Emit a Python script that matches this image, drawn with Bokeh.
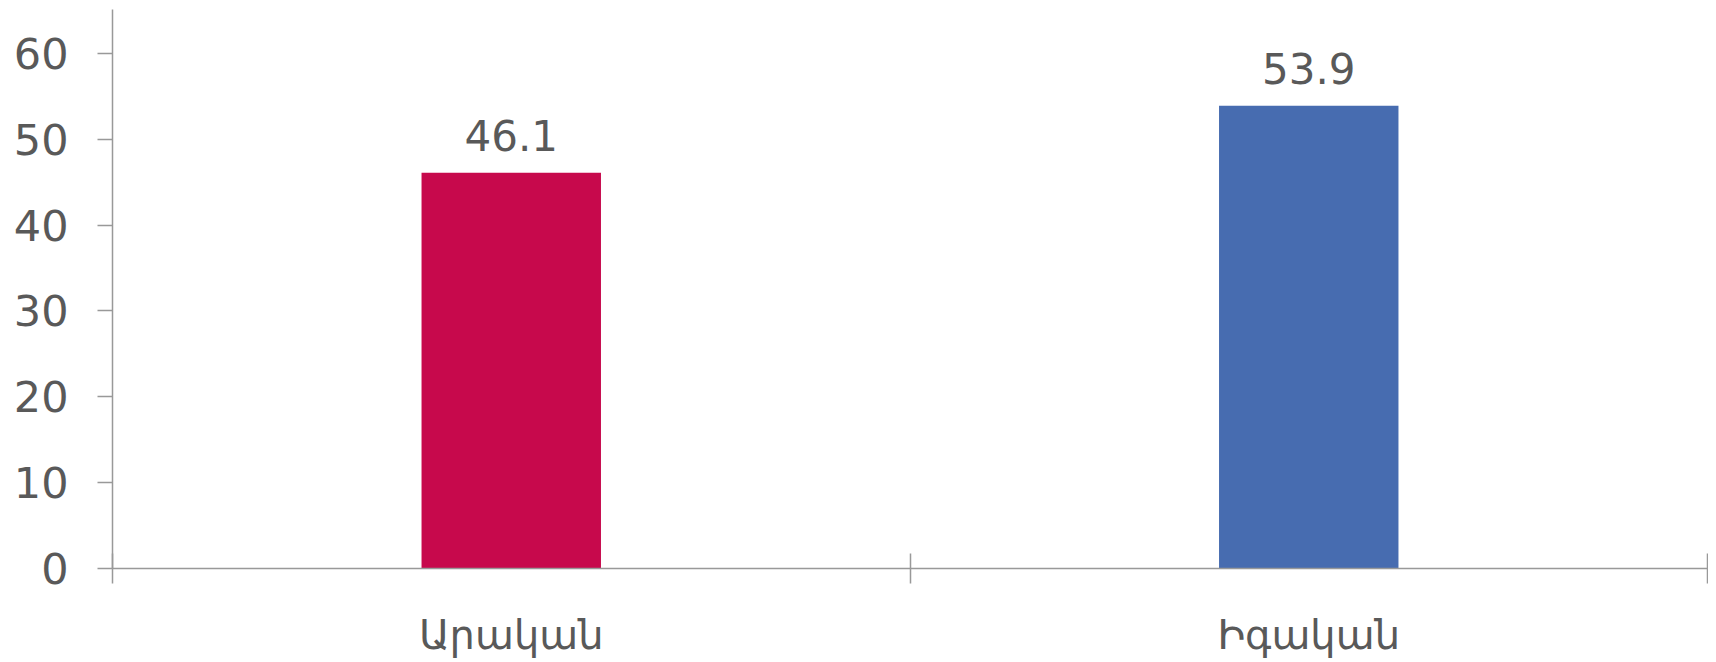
from bokeh.plotting import figure
from bokeh.models import FixedTicker, Range1d, ColumnDataSource, LabelSet
from bokeh.core.properties import value
from bokeh.embed import file_html
from bokeh.resources import INLINE

categories = ["Արական", "Իգական"]
values = [46.1, 53.9]
bar_colors = ["#C7094C", "#476CB0"]
y_ticks = [0, 10, 20, 30, 40, 50, 60]

FONT = "DejaVu Sans"
TXT = "#595959"
AXC = "#999999"

xs = [i + 0.5 for i in range(len(categories))]
src = ColumnDataSource(dict(x=xs, top=values, color=bar_colors,
                            label=[f"{v:.1f}" for v in values]))

p = figure(width=1708, height=660, output_backend="svg", toolbar_location=None,
           x_range=Range1d(0, len(categories)), y_range=Range1d(0, 65.1),
           min_border_left=112, min_border_right=1, min_border_top=9,
           min_border_bottom=86)
p.outline_line_color = None
p.xgrid.visible = False
p.ygrid.visible = False

p.vbar(x="x", top="top", bottom=0, width=0.225, color="color", line_color=None, source=src)

labels = LabelSet(x="x", y="top", text="label", source=src, text_align="center",
                  text_baseline="bottom", y_offset=22, text_font=value(FONT),
                  text_font_size=value("42px"), text_color=value(TXT))
p.add_layout(labels)

# y axis
p.yaxis.ticker = FixedTicker(ticks=y_ticks)
p.yaxis.axis_line_color = AXC
p.yaxis.axis_line_width = 1.5
p.yaxis.major_tick_line_color = AXC
p.yaxis.major_tick_line_width = 1.5
p.yaxis.major_tick_in = 0
p.yaxis.major_tick_out = 15
p.yaxis.minor_tick_line_color = None
p.yaxis.major_label_standoff = 29
p.yaxis.major_label_text_font = FONT
p.yaxis.major_label_text_font_size = "43px"
p.yaxis.major_label_text_color = TXT

# x axis
p.xaxis.ticker = FixedTicker(ticks=xs, minor_ticks=list(range(len(categories) + 1)))
p.xaxis.major_label_overrides = {x: c for x, c in zip(xs, categories)}
p.xaxis.axis_line_color = AXC
p.xaxis.axis_line_width = 1.5
p.xaxis.major_tick_line_color = None
p.xaxis.minor_tick_line_color = AXC
p.xaxis.minor_tick_line_width = 1.5
p.xaxis.minor_tick_in = 15
p.xaxis.minor_tick_out = 15
p.xaxis.major_label_standoff = 28
p.xaxis.major_label_text_font = FONT
p.xaxis.major_label_text_font_size = "40px"
p.xaxis.major_label_text_color = TXT

open("out.html", "w").write(file_html(p, INLINE))
